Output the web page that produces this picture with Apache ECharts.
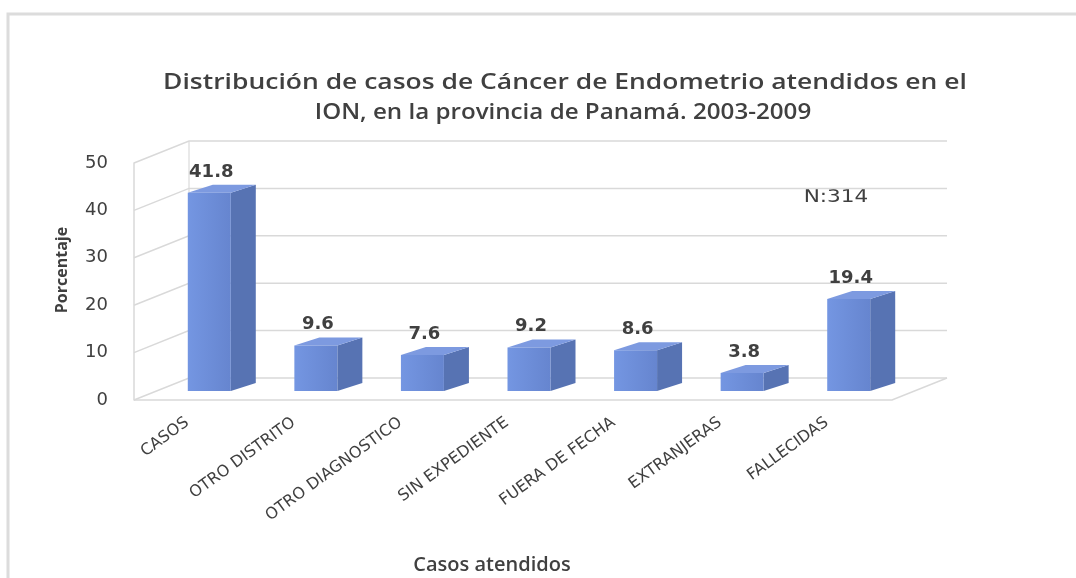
<!DOCTYPE html>
<html>
<head>
<meta charset="utf-8">
<script src="https://cdn.jsdelivr.net/npm/echarts@6/dist/echarts.min.js"></script>
<style>
  html, body { margin: 0; padding: 0; background: #fff; }
  #chart { width: 1076px; height: 578px; }
</style>
</head>
<body>
<div id="chart"></div>
<script>
var categories = ["CASOS", "OTRO DISTRITO", "OTRO DIAGNOSTICO", "SIN EXPEDIENTE", "FUERA DE FECHA", "EXTRANJERAS", "FALLECIDAS"];
var values = [41.8, 9.6, 7.6, 9.2, 8.6, 3.8, 19.4];
var yTicks = [0, 10, 20, 30, 40, 50];

// depth of the 3d box (walls) and of each bar, in pixels
var WALL_DX = 55, WALL_DY = -22;
var BAR_FX = 22, BAR_FY = -9;
var BAR_DX = 25, BAR_DY = -8;
var BAR_HALF = 21.5;
var TXT = "#404040";

var chart = echarts.init(document.getElementById("chart"));

function renderWalls(params, api) {
  var cs = params.coordSys;
  var v = api.value(0);
  var y = api.coord([0, v])[1];
  var x0 = cs.x, x1 = cs.x + cs.width;
  var children = [{
    type: "polyline",
    shape: { points: [[x0, y], [x0 + WALL_DX, y + WALL_DY], [x1 + WALL_DX + 12, y + WALL_DY]] },
    style: { stroke: "#d9d9d9", lineWidth: 1.5, fill: null }
  }];
  if (v === 0) {
    children.push({
      type: "polyline",
      shape: { points: [[x0, y], [x1 + 12, y], [x1 + WALL_DX + 12, y + WALL_DY]] },
      style: { stroke: "#d9d9d9", lineWidth: 1.5, fill: null }
    });
    var yTop = api.coord([0, yTicks[yTicks.length - 1]])[1];
    children.push({
      type: "line",
      shape: { x1: x0 + WALL_DX, y1: y + WALL_DY, x2: x0 + WALL_DX, y2: yTop + WALL_DY },
      style: { stroke: "#e2e2e2", lineWidth: 1.5 }
    });
  }
  return { type: "group", children: children };
}

function renderBar(params, api) {
  var i = api.value(0), v = api.value(1);
  var base = api.coord([i, 0]);
  var top = api.coord([i, v]);
  var cx = base[0] + BAR_FX;
  var l = cx - BAR_HALF, r = cx + BAR_HALF;
  var yb = base[1] + BAR_FY, yt = top[1] + BAR_FY;
  return {
    type: "group",
    children: [
      {
        type: "polygon",
        shape: { points: [[r, yb], [r, yt], [r + BAR_DX, yt + BAR_DY], [r + BAR_DX, yb + BAR_DY]] },
        style: { fill: "#5773b3" }
      },
      {
        type: "polygon",
        shape: { points: [[l, yt], [r, yt], [r + BAR_DX, yt + BAR_DY], [l + BAR_DX, yt + BAR_DY]] },
        style: { fill: "#7d9ae0" }
      },
      {
        type: "rect",
        shape: { x: l, y: yt, width: r - l, height: yb - yt },
        style: {
          fill: new echarts.graphic.LinearGradient(0, 0, 1, 0, [
            { offset: 0, color: "#7496e2" },
            { offset: 1, color: "#6685cf" }
          ])
        }
      },
      {
        type: "text",
        x: cx + 2, y: yt - 21,
        style: {
          text: v.toFixed(1), fill: TXT, align: "center", verticalAlign: "middle",
          font: "bold 18px 'DejaVu Sans', sans-serif"
        }
      }
    ]
  };
}

var option = {
  animation: false,
  backgroundColor: "#fff",
  grid: { left: 134, right: 196, top: 163, bottom: 178 },
  xAxis: {
    type: "category",
    data: categories,
    axisLine: { show: false },
    axisTick: { show: false },
    axisLabel: {
      interval: 0, rotate: 36, margin: 21,
      color: TXT, fontSize: 16, fontFamily: "DejaVu Sans"
    }
  },
  yAxis: {
    type: "value",
    min: 0, max: 50, interval: 10,
    axisLine: { show: true, lineStyle: { color: "#d9d9d9", width: 1.5 } },
    axisTick: { show: false },
    splitLine: { show: false },
    axisLabel: { margin: 26, color: TXT, fontSize: 18, fontFamily: "DejaVu Sans" }
  },
  series: [
    {
      type: "custom",
      renderItem: renderWalls,
      data: yTicks.map(function (t) { return [t]; }),
      encode: { y: 0 },
      z: 1,
      silent: true
    },
    {
      type: "custom",
      renderItem: renderBar,
      data: values.map(function (v, i) { return [i, v]; }),
      encode: { x: 0, y: 1 },
      z: 2
    }
  ],
  graphic: [
    {
      type: "rect",
      shape: { x: 8, y: 14, width: 1100, height: 620 },
      style: { fill: null, stroke: "#dcdcdc", lineWidth: 3 },
      z: -10
    },
    {
      type: "text", x: 565, y: 83, scaleX: 1.26,
      style: {
        text: "Distribución de casos de Cáncer de Endometrio atendidos en el",
        fill: TXT, align: "center", verticalAlign: "middle",
        font: "600 21px 'Open Sans', sans-serif"
      }
    },
    {
      type: "text", x: 563, y: 113, scaleX: 1.15,
      style: {
        text: "ION, en la provincia de Panamá. 2003-2009",
        fill: TXT, align: "center", verticalAlign: "middle",
        font: "600 21px 'Open Sans', sans-serif"
      }
    },
    {
      type: "text", x: 836, y: 197, scaleX: 1.2,
      style: {
        text: "N:314", fill: TXT, align: "center", verticalAlign: "middle",
        font: "18px 'DejaVu Sans', sans-serif"
      }
    },
    {
      type: "text", x: 62, y: 270, rotation: Math.PI / 2,
      style: {
        text: "Porcentaje", fill: TXT, align: "center", verticalAlign: "middle",
        font: "bold 16px 'Open Sans', sans-serif"
      }
    },
    {
      type: "text", x: 492, y: 565,
      style: {
        text: "Casos atendidos", fill: TXT, align: "center", verticalAlign: "middle",
        font: "600 20px 'Open Sans', sans-serif"
      }
    }
  ]
};

chart.setOption(option);
</script>
</body>
</html>
